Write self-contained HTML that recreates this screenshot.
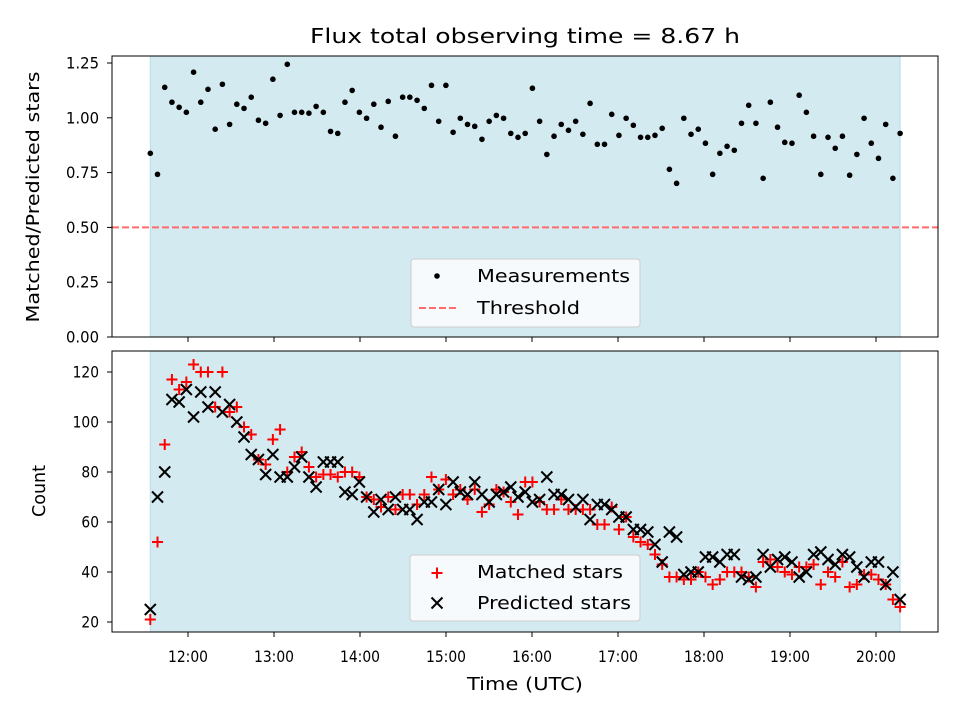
<!DOCTYPE html>
<html><head><meta charset="utf-8"><style>
body{margin:0;background:#fff;}
svg{display:block;font-family:"DejaVu Sans","Liberation Sans",sans-serif;}
</style></head><body>
<svg id="chart" width="960" height="720" viewBox="0 0 960 720" xmlns="http://www.w3.org/2000/svg"></svg>
<script>
const startMinutes = 11*60 + 33.7;
const stepMinutes = 5.03;
const ratioValues = [0.838,0.742,1.139,1.071,1.048,1.025,1.208,1.071,1.130,0.948,1.153,0.970,1.062,1.043,1.094,0.989,0.975,1.176,1.011,1.244,1.025,1.025,1.021,1.052,1.025,0.938,0.929,1.071,1.125,1.025,0.998,1.062,0.957,1.075,0.916,1.094,1.094,1.080,1.043,1.148,0.984,1.148,0.934,0.998,0.970,0.961,0.902,0.984,1.011,0.998,0.929,0.911,0.929,1.135,0.984,0.833,0.916,0.970,0.943,0.984,0.925,1.066,0.879,0.879,1.016,0.920,0.998,0.966,0.911,0.911,0.920,0.952,0.765,0.701,0.998,0.925,0.948,0.884,0.742,0.838,0.870,0.852,0.975,1.057,0.975,0.724,1.071,0.957,0.888,0.884,1.103,1.025,0.916,0.742,0.911,0.861,0.916,0.738,0.833,0.998,0.884,0.815,0.970,0.724,0.929];
const matchedValues = [21,52,91,117,113,116,123,120,120,106,120,104,106,98,95,85,83,93,97,80,86,88,82,78,79,79,78,80,80,78,70,69,66,70,65,71,71,67,71,78,73,77,71,73,69,73,64,67,73,72,68,63,76,76,68,65,65,69,65,65,65,65,59,59,66,57,62,54,52,51,47,43,38,38,37,37,40,38,35,37,40,40,40,38,34,44,45,42,40,39,42,42,43,35,40,38,44,34,35,39,39,37,35,29,26];
const predictedValues = [25,70,80,109,108,113,102,112,106,112,104,107,100,94,87,85,79,87,78,78,82,86,78,74,84,84,84,72,71,76,70,64,69,65,70,65,65,61,68,68,73,67,76,72,71,76,71,68,71,72,74,70,72,68,69,78,71,71,69,66,69,61,67,67,65,62,62,57,57,56,51,44,56,54,39,40,40,46,46,44,47,47,38,37,38,47,42,45,46,44,38,40,47,48,45,43,47,46,42,38,44,44,35,40,29];
const ratioTicks = [0,0.25,0.5,0.75,1.0,1.25];
const countTicks = [20,40,60,80,100,120];
const timeTicks = ["12:00","13:00","14:00","15:00","16:00","17:00","18:00","19:00","20:00"];
const thresholdValue = 0.5;

const NS = "http://www.w3.org/2000/svg";
const svg = document.getElementById('chart');
function mk(tag, attrs, parent){const e=document.createElementNS(NS,tag);for(const k in attrs)e.setAttribute(k,attrs[k]);(parent||svg).appendChild(e);return e;}
const L=112,R=938;
const topP={t:56,b:337}, botP={t:351,b:632};
function xScale(min){return 188 + (min-720)/60*86;}
function yRatio(v){return 337 - v*219.2;}
function yCount(v){return 622 - (v-20)*2.5;}
const times = ratioValues.map((_,i)=>startMinutes + i*stepMinutes);
const tMin = startMinutes, tMax = startMinutes + (ratioValues.length-1)*stepMinutes;

let t = mk('text',{x:525,y:43,'text-anchor':'middle','font-size':'20.5',fill:'#000',textLength:430,lengthAdjust:'spacingAndGlyphs'});
t.textContent='Flux total observing time = 8.67 h';



function panel(p, name){
  const g = mk('g',{});
  
  
  const span = mk('rect',{x:xScale(tMin),y:p.t,width:xScale(tMax)-xScale(tMin),height:p.b-p.t,fill:'#d4eaf1',stroke:'#bcdce8','stroke-width':1},g);
  
  
  return g;
}
function frame(g,p){
  const f = mk('rect',{x:L,y:p.t,width:R-L,height:p.b-p.t,fill:'none',stroke:'#000','stroke-width':1},g);
  
  
  timeTicks.forEach((lab,i)=>{
    const x = xScale(720 + i*60);
    mk('line',{x1:x,x2:x,y1:p.b,y2:p.b+5,stroke:'#000','stroke-width':1},g);
  });
}

const gTop = panel(topP,'ratio-panel');
const th = mk('line',{x1:L,x2:R,y1:yRatio(thresholdValue),y2:yRatio(thresholdValue),stroke:'#ff6b6b','stroke-width':2,'stroke-dasharray':'7,3'},gTop);


ratioValues.forEach((v,i)=>{
  const c = mk('circle',{cx:xScale(times[i]),cy:yRatio(v),r:2.8,fill:'#000'},gTop);
  
  
});
frame(gTop,topP);
ratioTicks.forEach(v=>{
  const y=yRatio(v);
  mk('line',{x1:L-5,x2:L,y1:y,y2:y,stroke:'#000'},gTop);
  const tx=mk('text',{x:99,y:y+5.5,'text-anchor':'end','font-size':'16',textLength:33,lengthAdjust:'spacingAndGlyphs'},gTop);
  tx.textContent=v.toFixed(2);
  
  
});
let yl = mk('text',{x:0,y:0,transform:'translate(39,197) rotate(-90)','text-anchor':'middle','font-size':'17.5',textLength:251,lengthAdjust:'spacingAndGlyphs'});
yl.textContent='Matched/Predicted stars';



const lg1 = mk('g',{});


mk('rect',{x:411,y:259,width:229,height:68,rx:3,fill:'#f6fafc',stroke:'#cccccc'},lg1);
mk('circle',{cx:437,cy:276,r:2.8,fill:'#000'},lg1);
let le = mk('text',{x:477,y:282,'font-size':'17.5',textLength:153,lengthAdjust:'spacingAndGlyphs'},lg1); le.textContent='Measurements';


mk('line',{x1:419,x2:456,y1:308,y2:308,stroke:'#ff6b6b','stroke-width':2,'stroke-dasharray':'7,3'},lg1);
le = mk('text',{x:477,y:314,'font-size':'17.5',textLength:103,lengthAdjust:'spacingAndGlyphs'},lg1); le.textContent='Threshold';



const gBot = panel(botP,'count-panel');
function plus(g,x,y){
  return mk('path',{d:`M${x-5.5},${y}H${x+5.5}M${x},${y-5.5}V${y+5.5}`,stroke:'#ff0000','stroke-width':2,fill:'none'},g);
}
function cross(g,x,y){
  return mk('path',{d:`M${x-5.5},${y-5.5}L${x+5.5},${y+5.5}M${x-5.5},${y+5.5}L${x+5.5},${y-5.5}`,stroke:'#000','stroke-width':2,fill:'none'},g);
}
matchedValues.forEach((v,i)=>{
  const p=plus(gBot,xScale(times[i]),yCount(v));
  
  
});
predictedValues.forEach((v,i)=>{
  const p=cross(gBot,xScale(times[i]),yCount(v));
  
  
});
frame(gBot,botP);
countTicks.forEach(v=>{
  const y=yCount(v);
  mk('line',{x1:L-5,x2:L,y1:y,y2:y,stroke:'#000'},gBot);
  const tx=mk('text',{x:99,y:y+5.5,'text-anchor':'end','font-size':'16',textLength:String(v).length*8.8,lengthAdjust:'spacingAndGlyphs'},gBot);
  tx.textContent=v;
  
  
});
timeTicks.forEach((lab,i)=>{
  const tx=mk('text',{x:xScale(720+i*60),y:662,'text-anchor':'middle','font-size':'16',textLength:40,lengthAdjust:'spacingAndGlyphs'},gBot);
  tx.textContent=lab;
  
  
});
yl = mk('text',{x:0,y:0,transform:'translate(45,491) rotate(-90)','text-anchor':'middle','font-size':'17.5',textLength:52,lengthAdjust:'spacingAndGlyphs'});
yl.textContent='Count';


let xl = mk('text',{x:525,y:690,'text-anchor':'middle','font-size':'17.5',textLength:116,lengthAdjust:'spacingAndGlyphs'});
xl.textContent='Time (UTC)';



const lg2 = mk('g',{});


mk('rect',{x:410,y:555,width:230,height:66,rx:3,fill:'#f6fafc',stroke:'#cccccc'},lg2);
plus(lg2,437,573);
le = mk('text',{x:477,y:578,'font-size':'17.5',textLength:146,lengthAdjust:'spacingAndGlyphs'},lg2); le.textContent='Matched stars';


cross(lg2,437,603);
le = mk('text',{x:477,y:609,'font-size':'17.5',textLength:154,lengthAdjust:'spacingAndGlyphs'},lg2); le.textContent='Predicted stars';


</script>
</body></html>
